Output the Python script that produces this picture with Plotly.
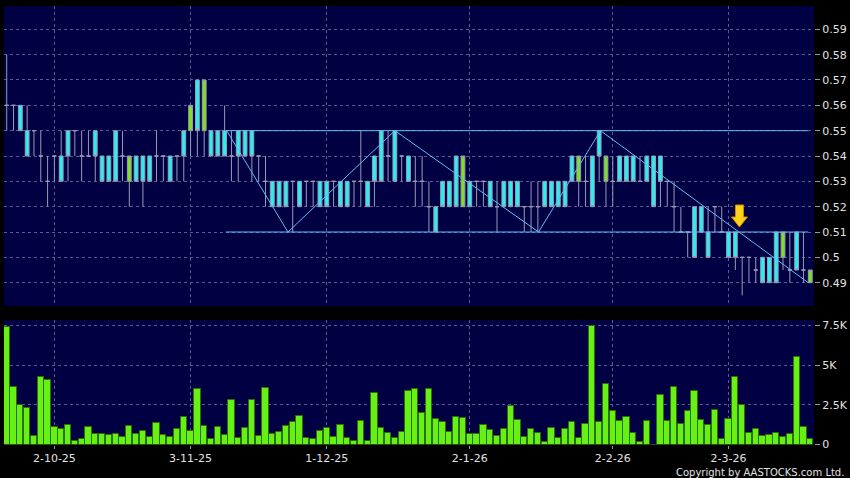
import plotly.graph_objects as go

# x positions are trading-day indices (0 = first bar on the chart)
tick_idx = [7, 27, 47, 68, 89, 106]
tick_labels = ["2-10-25", "3-11-25", "1-12-25", "2-1-26", "2-2-26", "2-3-26"]

opens = [
    0.56, 0.56, 0.56, 0.55, 0.55, 0.54, 0.53, 0.54, 0.54, 0.55,
    0.55, 0.54, 0.54, 0.55, 0.54, 0.54, 0.55, 0.54, 0.53, 0.54,
    0.54, 0.54, 0.54, 0.54, 0.54, 0.54, 0.55, 0.55, 0.57, 0.55,
    0.55, 0.55, 0.55, 0.54, 0.55, 0.55, 0.55, 0.54, 0.53, 0.53,
    0.53, 0.53, 0.53, 0.53, 0.53, 0.53, 0.53, 0.53, 0.53, 0.53,
    0.53, 0.53, 0.53, 0.53, 0.54, 0.55, 0.54, 0.55, 0.54, 0.54,
    0.53, 0.53, 0.52, 0.52, 0.53, 0.53, 0.54, 0.52, 0.53, 0.53,
    0.53, 0.53, 0.52, 0.53, 0.53, 0.53, 0.52, 0.52, 0.52, 0.53,
    0.53, 0.53, 0.53, 0.54, 0.53, 0.53, 0.54, 0.55, 0.53, 0.53,
    0.54, 0.54, 0.54, 0.53, 0.54, 0.54, 0.54, 0.53, 0.52, 0.51,
    0.51, 0.52, 0.52, 0.51, 0.52, 0.51, 0.51, 0.51, 0.50, 0.50,
    0.495, 0.50, 0.50, 0.51, 0.50, 0.495, 0.51, 0.495, 0.49,
]
highs = [
    0.58, 0.56, 0.56, 0.56, 0.55, 0.55, 0.54, 0.54, 0.55, 0.55,
    0.55, 0.55, 0.55, 0.55, 0.54, 0.54, 0.55, 0.55, 0.54, 0.54,
    0.54, 0.54, 0.55, 0.54, 0.54, 0.54, 0.55, 0.56, 0.57, 0.57,
    0.55, 0.55, 0.56, 0.55, 0.55, 0.55, 0.55, 0.54, 0.54, 0.53,
    0.53, 0.53, 0.53, 0.53, 0.53, 0.53, 0.53, 0.53, 0.53, 0.53,
    0.53, 0.53, 0.55, 0.53, 0.54, 0.55, 0.55, 0.55, 0.54, 0.54,
    0.54, 0.54, 0.53, 0.52, 0.53, 0.53, 0.54, 0.54, 0.53, 0.53,
    0.53, 0.53, 0.53, 0.53, 0.53, 0.53, 0.52, 0.53, 0.53, 0.53,
    0.53, 0.53, 0.53, 0.54, 0.54, 0.54, 0.54, 0.55, 0.54, 0.54,
    0.54, 0.54, 0.54, 0.54, 0.54, 0.54, 0.54, 0.53, 0.53, 0.52,
    0.51, 0.52, 0.52, 0.52, 0.52, 0.52, 0.51, 0.51, 0.50, 0.50,
    0.50, 0.50, 0.50, 0.51, 0.51, 0.51, 0.51, 0.51, 0.495,
]
lows = [
    0.55, 0.55, 0.55, 0.54, 0.54, 0.53, 0.52, 0.53, 0.53, 0.53,
    0.54, 0.53, 0.54, 0.53, 0.53, 0.53, 0.53, 0.53, 0.52, 0.53,
    0.52, 0.53, 0.53, 0.53, 0.53, 0.53, 0.53, 0.54, 0.54, 0.54,
    0.54, 0.54, 0.54, 0.53, 0.53, 0.54, 0.53, 0.53, 0.52, 0.52,
    0.52, 0.52, 0.51, 0.52, 0.52, 0.52, 0.52, 0.52, 0.52, 0.52,
    0.52, 0.52, 0.52, 0.52, 0.52, 0.53, 0.53, 0.53, 0.53, 0.53,
    0.52, 0.52, 0.51, 0.51, 0.52, 0.52, 0.52, 0.52, 0.52, 0.52,
    0.52, 0.52, 0.51, 0.52, 0.52, 0.52, 0.51, 0.51, 0.51, 0.52,
    0.52, 0.52, 0.52, 0.53, 0.52, 0.52, 0.52, 0.53, 0.52, 0.52,
    0.53, 0.53, 0.53, 0.53, 0.53, 0.52, 0.52, 0.52, 0.51, 0.51,
    0.50, 0.50, 0.51, 0.50, 0.51, 0.51, 0.50, 0.495, 0.485, 0.49,
    0.49, 0.49, 0.49, 0.49, 0.495, 0.49, 0.495, 0.49, 0.49,
]
closes = [
    0.56, 0.56, 0.55, 0.54, 0.55, 0.54, 0.53, 0.54, 0.53, 0.54,
    0.55, 0.54, 0.54, 0.54, 0.53, 0.53, 0.53, 0.54, 0.54, 0.53,
    0.53, 0.53, 0.54, 0.54, 0.53, 0.54, 0.54, 0.56, 0.55, 0.57,
    0.54, 0.54, 0.54, 0.54, 0.54, 0.54, 0.54, 0.54, 0.53, 0.52,
    0.52, 0.52, 0.53, 0.52, 0.53, 0.53, 0.52, 0.52, 0.53, 0.52,
    0.52, 0.53, 0.53, 0.52, 0.53, 0.53, 0.54, 0.53, 0.54, 0.53,
    0.53, 0.53, 0.52, 0.51, 0.52, 0.52, 0.52, 0.54, 0.52, 0.53,
    0.53, 0.52, 0.52, 0.52, 0.52, 0.52, 0.52, 0.52, 0.52, 0.52,
    0.52, 0.52, 0.52, 0.53, 0.54, 0.53, 0.52, 0.54, 0.54, 0.53,
    0.53, 0.53, 0.53, 0.53, 0.53, 0.52, 0.53, 0.53, 0.52, 0.51,
    0.51, 0.50, 0.51, 0.50, 0.52, 0.51, 0.50, 0.50, 0.50, 0.50,
    0.495, 0.49, 0.49, 0.49, 0.51, 0.495, 0.495, 0.495, 0.495,
]

# daily turnover (shares)
volumes = [
    7400, 3600, 2500, 2300, 530, 4260, 4050, 1100, 1000, 1250,
    200, 360, 1130, 650, 650, 570, 630, 500, 1180, 670,
    840, 500, 1370, 590, 460, 970, 1760, 860, 3490, 1160,
    320, 1090, 610, 2770, 380, 1050, 2800, 530, 3550, 630,
    780, 1180, 1390, 1810, 420, 320, 860, 1070, 460, 1220,
    380, 210, 1470, 250, 3210, 1070, 710, 420, 780, 3340,
    3470, 1970, 3470, 1620, 1430, 780, 1760, 1640, 670, 670,
    1240, 920, 550, 970, 2440, 1550, 480, 970, 710, 150,
    1050, 400, 970, 1410, 400, 1280, 7460, 1410, 3780, 2100,
    1510, 1720, 710, 130, 1510, 0, 3100, 1450, 3630, 1300,
    2100, 3360, 1550, 1200, 2160, 340, 1600, 4220, 2460, 740,
    950, 530, 610, 740, 480, 690, 5520, 1090, 340,
]

price_ticks = [0.49, 0.50, 0.51, 0.52, 0.53, 0.54, 0.55, 0.56, 0.57, 0.58, 0.59]
price_tick_labels = ["0.49", "0.5", "0.51", "0.52", "0.53", "0.54",
                     "0.55", "0.56", "0.57", "0.58", "0.59"]
vol_ticks = [0, 2500, 5000, 7500]
vol_tick_labels = ["0", "2.5K", "5K", "7.5K"]

# drawn analysis lines (bar index, price)
zigzag_x = [32.3, 41.3, 57.0, 78.1, 87.2, 117.7]
zigzag_y = [0.55, 0.51, 0.55, 0.51, 0.55, 0.49]
channel_x = [32.2, 117.7]
channel_top = [0.55, 0.55]
channel_bottom = [0.51, 0.51]
arrow_x = 107.6
arrow_y = 0.51

W, H = 850, 478
# the snapshot came out ~1.7% shorter than asked, so the figure is drawn taller
H_DRAW = 486
navy = "#000042"
grid = "#5a5a92"
label_col = "#e2e2e2"
line_blue = "#5fbef5"
font = "DejaVu Sans"

idx = list(range(len(closes)))

fig = go.Figure()

fig.add_trace(
    go.Candlestick(
        x=idx,
        open=opens,
        high=highs,
        low=lows,
        close=closes,
        increasing=dict(fillcolor="#7ee01e", line=dict(color="#9a9ab4", width=1)),
        decreasing=dict(fillcolor="#28f0f0", line=dict(color="#9a9ab4", width=1)),
        whiskerwidth=0,
        hoverinfo="skip",
        showlegend=False,
        xaxis="x",
        yaxis="y"
    )
)

for ys in (channel_top, channel_bottom):
    fig.add_trace(
        go.Scatter(
            x=channel_x,
            y=ys,
            mode="lines",
            line=dict(color=line_blue, width=1),
            hoverinfo="skip",
            showlegend=False,
            xaxis="x",
            yaxis="y"
        )
    )

fig.add_trace(
    go.Scatter(
        x=zigzag_x,
        y=zigzag_y,
        mode="lines",
        line=dict(color=line_blue, width=1),
        hoverinfo="skip",
        showlegend=False,
        xaxis="x",
        yaxis="y"
    )
)

fig.add_trace(
    go.Bar(
        x=idx,
        y=volumes,
        width=0.92,
        marker=dict(color="#66f016", line=dict(color="#2c6e08", width=1)),
        hoverinfo="skip",
        showlegend=False,
        xaxis="x2",
        yaxis="y2"
    )
)

# yellow down arrow, drawn in pixels around its anchor point
fig.add_shape(
    type="path",
    xref="x",
    yref="y",
    xsizemode="pixel",
    ysizemode="pixel",
    xanchor=arrow_x,
    yanchor=arrow_y,
    path="M 0 5 L -8 15 L -4 15 L -4 27 L 4 27 L 4 15 L 8 15 Z",
    fillcolor="#ffd21a",
    line=dict(color="#d08a00", width=1),
    layer="above"
)

x_left, x_right = 4 / W, 814 / W
xr = [-0.4, len(closes) - 0.45]

axis_common = dict(
    showline=False,
    zeroline=False,
    showgrid=True,
    gridcolor=grid,
    gridwidth=1,
    griddash="3px,3px",
    tickfont=dict(family=font, size=11, color=label_col),
    tickcolor="#9a9a9a",
    fixedrange=True
)

fig.update_layout(
    width=W,
    height=H_DRAW,
    autosize=False,
    margin=dict(l=0, r=0, t=0, b=0),
    paper_bgcolor="#000000",
    plot_bgcolor=navy,
    bargap=0,
    boxgap=0.2,
    xaxis=dict(
        axis_common,
        domain=[x_left, x_right],
        range=xr,
        anchor="y",
        tickmode="array",
        tickvals=tick_idx,
        showticklabels=False,
        ticks="",
        rangeslider=dict(visible=False)
    ),
    yaxis=dict(
        axis_common,
        domain=[1 - 305 / H, 1 - 5 / H],
        range=[0.4808, 0.5992],
        side="right",
        anchor="x",
        tickmode="array",
        tickvals=price_ticks,
        ticktext=price_tick_labels,
        ticks="outside",
        ticklen=5
    ),
    xaxis2=dict(
        axis_common,
        domain=[x_left, x_right],
        range=xr,
        anchor="y2",
        matches="x",
        tickmode="array",
        tickvals=tick_idx,
        ticktext=tick_labels,
        ticks="outside",
        ticklen=3
    ),
    yaxis2=dict(
        axis_common,
        domain=[1 - 443.5 / H, 1 - 319 / H],
        range=[0, 7834],
        side="right",
        anchor="x2",
        tickmode="array",
        tickvals=vol_ticks,
        ticktext=vol_tick_labels,
        ticks="outside",
        ticklen=5
    ),
    annotations=[
        dict(
            text="Copyright by AASTOCKS.com Ltd.",
            xref="paper",
            yref="paper",
            x=846 / W,
            y=1 - 471 / H,
            xanchor="right",
            yanchor="middle",
            showarrow=False,
            font=dict(family=font, size=10, color=label_col)
        )
    ]
)

# drop the browser's default body margin
page_fix = (
    "document.body.style.margin='0';"
    "document.body.style.background='#000';"
)

fig.write_html(
    "out.html",
    config={"displayModeBar": False, "responsive": False},
    post_script=page_fix
)
